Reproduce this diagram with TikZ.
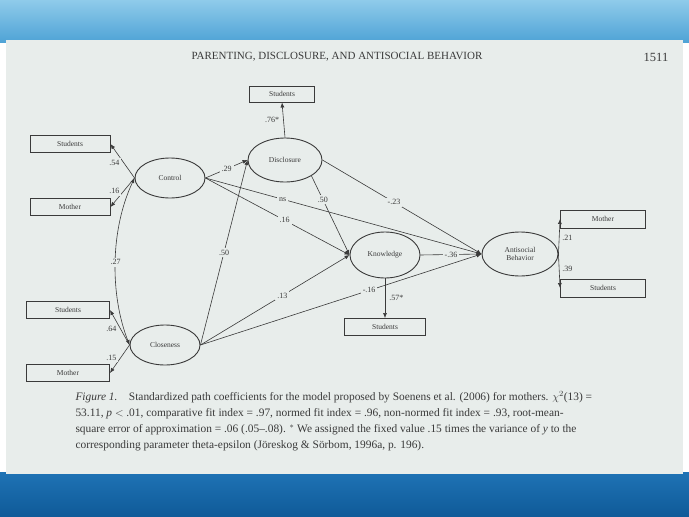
\documentclass[tikz,border=0pt]{standalone}
\usepackage{fontspec}
\setmainfont{Liberation Serif}
\usetikzlibrary{arrows.meta,shapes.geometric}
\definecolor{pagec}{HTML}{E8EDEB}
\definecolor{ink}{HTML}{3A3A3A}
\definecolor{skytop}{HTML}{8FCBEA}
\definecolor{skybot}{HTML}{4FA3D6}
\definecolor{deep}{HTML}{1F73B5}
\definecolor{deep2}{HTML}{0F5A98}
\tikzset{
 box/.style={draw=ink,line width=0.9pt,minimum width=80pt,minimum height=17pt,inner sep=0pt,font=\fontsize{7.5}{8.5}\selectfont,text=ink},
 lat/.style={ellipse,draw=ink,line width=0.9pt,inner sep=0pt,font=\fontsize{7.5}{8.5}\selectfont,text=ink,align=center},
 pth/.style={draw=ink,line width=0.6pt,-{Latex[length=5pt,width=4pt]}},
 lab/.style={fill=pagec,inner sep=2pt,font=\fontsize{8}{9}\selectfont,text=ink},
}
\begin{document}
\begin{tikzpicture}[x=1pt,y=-1pt]
\useasboundingbox (0,0) rectangle (689,517);
\shade[top color=skytop,bottom color=skybot] (0,0) rectangle (689,42);
\shade[top color=deep,bottom color=deep2] (0,472) rectangle (689,517);
\fill[pagec] (6,40) rectangle (683,474);
\node[font=\fontsize{11}{13}\selectfont,text=ink] (hdr) at (337,57) {PARENTING, DISCLOSURE, AND ANTISOCIAL BEHAVIOR};
\node[font=\fontsize{12.5}{14}\selectfont,text=ink] (pg) at (656,57) {1511};

\node[box,minimum width=65pt,minimum height=16pt] (sD) at (282,94) {Students};
\node[box] (s1) at (70,144) {Students};
\node[box] (m1) at (70,207) {Mother};
\node[box,minimum width=83pt] (s2) at (68,310) {Students};
\node[box,minimum width=83pt] (m2) at (68,373) {Mother};
\node[box,minimum width=81pt] (sK) at (385,327) {Students};
\node[box,minimum width=85pt,minimum height=18pt] (mA) at (603,219) {Mother};
\node[box,minimum width=85pt,minimum height=18pt] (sA) at (603,288) {Students};

\node[lat,minimum width=70pt,minimum height=40pt] (ctl) at (170,178) {Control};
\node[lat,minimum width=74pt,minimum height=44pt] (dis) at (285,160) {Disclosure};
\node[lat,minimum width=70pt,minimum height=40pt] (clo) at (165,345) {Closeness};
\node[lat,minimum width=70pt,minimum height=46pt] (kno) at (385,255) {Knowledge};
\node[lat,minimum width=76pt,minimum height=44pt] (ant) at (520,254) {Antisocial\\[-1pt]Behavior};

\draw[pth] (ctl.west) -- node[lab,pos=0.45,left=2pt] {.54} (s1.east);
\draw[pth] (ctl.west) -- node[lab,pos=0.45,left=2pt] {.16} (m1.east);
\draw[pth] (clo.west) -- node[lab,pos=0.45,left=2pt] {.64} (s2.east);
\draw[pth] (clo.west) -- node[lab,pos=0.45,left=2pt] {.15} (m2.east);
\draw[pth] (dis.north) -- node[lab,pos=0.5,left=2pt] {.76*} (sD.south);
\draw[pth] (kno.south) -- node[lab,pos=0.5,right=2pt] {.57*} (sK.north);
\draw[pth] (ant.east) -- node[lab,pos=0.45,right=1pt] {.21} (mA.west);
\draw[pth] (ant.east) -- node[lab,pos=0.45,right=1pt] {.39} (sA.west);

\draw[draw=ink,line width=0.6pt,{Latex[length=5pt,width=4pt]}-{Latex[length=5pt,width=4pt]}] (ctl.west) .. controls (110,230) and (110,295) .. node[lab,pos=0.5] {.27} (clo.west);

\draw[pth] (ctl.east) -- node[lab,pos=0.5] {.29} (dis.west);
\draw[pth] (clo.east) -- node[lab,pos=0.5] {.50} (dis.west);
\draw[pth] (ctl.east) -- node[lab,pos=0.28] {ns} (ant.west);
\draw[pth] (ctl.east) -- node[lab,pos=0.55] {.16} (kno.west);
\draw[pth] (dis.south east) -- node[lab,pos=0.3] {.50} (kno.west);
\draw[pth] (dis.east) -- node[lab,pos=0.45] {-.23} (ant.west);
\draw[pth] (clo.east) -- node[lab,pos=0.55] {.13} (kno.west);
\draw[pth] (clo.east) -- node[lab,pos=0.6] {-.16} (ant.west);
\draw[pth] (kno.east) -- node[lab,pos=0.5] {-.36} (ant.west);

\node[anchor=north west,align=left,font=\fontsize{11.4}{15.8}\selectfont,text=ink] (cap) at (72,388) {\textit{Figure 1.}\quad Standardized path coefficients for the model proposed by Soenens et al. (2006) for mothers. $\chi^2$(13) =\\
53.11, \textit{p} $<$ .01, comparative fit index = .97, normed fit index = .96, non-normed fit index = .93, root-mean-\\
square error of approximation = .06 (.05--.08). $^*$ We assigned the fixed value .15 times the variance of \textit{y} to the\\
corresponding parameter theta-epsilon (J\"oreskog \& S\"orbom, 1996a, p. 196).};
\end{tikzpicture}
\end{document}
